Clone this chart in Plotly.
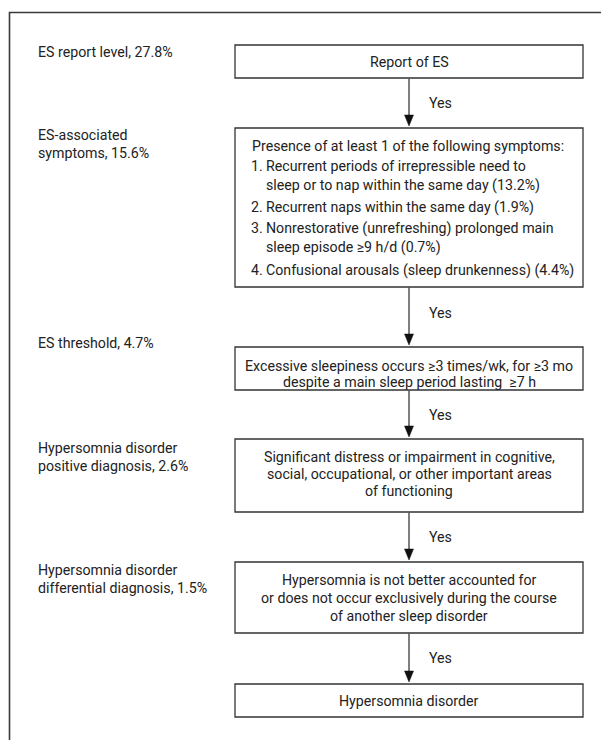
import plotly.graph_objects as go

# ---- data (text content) ----
stage_labels = [
    ["ES report level, 27.8%"],
    ["ES-associated", "symptoms, 15.6%"],
    ["ES threshold, 4.7%"],
    ["Hypersomnia disorder", "positive diagnosis, 2.6%"],
    ["Hypersomnia disorder", "differential diagnosis, 1.5%"],
]
box_texts = [
    ["Report of ES"],
    None,  # list box, see symptom_lines
    ["Excessive sleepiness occurs \u22653 times/wk, for \u22653 mo",
     "despite a main sleep period lasting  \u22657 h"],
    ["Significant distress or impairment in cognitive,",
     "social, occupational, or other important areas",
     "of functioning"],
    ["Hypersomnia is not better accounted for",
     "or does not occur exclusively during the course",
     "of another sleep disorder"],
    ["Hypersomnia disorder"],
]
symptom_header = "Presence of at least 1 of the following symptoms:"
symptom_lines = [
    ("1.", "Recurrent periods of irrepressible need to"),
    ("", "sleep or to nap within the same day (13.2%)"),
    ("2.", "Recurrent naps within the same day (1.9%)"),
    ("3.", "Nonrestorative (unrefreshing) prolonged main"),
    ("", "sleep episode \u22659 h/d (0.7%)"),
    ("4.", "Confusional arousals (sleep drunkenness) (4.4%)"),
]
arrow_label = "Yes"

# ---- layout (positions, pixels) ----
W, H = 601, 740
BOX_X0, BOX_X1 = 235, 583
box_top = [45, 128, 347, 439, 562, 684]
box_bot = [78, 287, 390, 512, 633, 717]
box_line_y = [
    [62],
    None,
    [366, 382],
    [457, 474, 491],
    [580, 598, 616],
    [701],
]
sym_y = [146, 166, 185, 207, 228, 247, 270]
label_y = [52, 135, 343, 448, 570]
LABEL_X = 36
LABEL_DY = 18
YES_Y = [103, 313, 415, 537, 658]

FONT = "Roboto, Liberation Sans, sans-serif"
FS = 14.2
TXT = "#222222"

fig = go.Figure()
shapes = []
ann = []

# outer frame (open to right and bottom)
shapes.append(dict(type="path", path=f"M 9.5 {H} L 9.5 12.5 L {W} 12.5",
                   line=dict(color="#3a3a3a", width=1.6), xref="x", yref="y"))

cx = (BOX_X0 + BOX_X1) / 2
for i in range(len(box_top)):
    shapes.append(dict(type="rect", x0=BOX_X0, x1=BOX_X1, y0=box_top[i], y1=box_bot[i],
                       line=dict(color="#333333", width=1.3), xref="x", yref="y"))
    if box_texts[i] is not None:
        for t, yy in zip(box_texts[i], box_line_y[i]):
            ann.append(dict(x=cx, y=yy, text=t, showarrow=False, xanchor="center",
                            yanchor="middle", font=dict(family=FONT, size=FS, color=TXT)))

# list box
ann.append(dict(x=250, y=sym_y[0], text=symptom_header, showarrow=False, xanchor="left",
                yanchor="middle", font=dict(family=FONT, size=FS, color=TXT)))
for (num, t), yy in zip(symptom_lines, sym_y[1:]):
    ann.append(dict(x=264, y=yy, text=t, showarrow=False, xanchor="left",
                    yanchor="middle", font=dict(family=FONT, size=FS, color=TXT)))
    if num:
        ann.append(dict(x=249, y=yy, text=num, showarrow=False, xanchor="left",
                        yanchor="middle", font=dict(family=FONT, size=FS, color=TXT)))

# arrows between boxes
for i in range(len(box_top) - 1):
    y0 = box_bot[i]
    tip = box_top[i + 1] - 2
    shapes.append(dict(type="line", x0=cx, x1=cx, y0=y0, y1=tip - 8,
                       line=dict(color="#555555", width=1.5), xref="x", yref="y"))
    shapes.append(dict(type="path",
                       path=f"M {cx-4.5} {tip-11} L {cx+4.5} {tip-11} L {cx} {tip} Z",
                       fillcolor="#111111", line=dict(color="#111111", width=0.5),
                       xref="x", yref="y"))
    ann.append(dict(x=427, y=YES_Y[i], text=arrow_label, showarrow=False, xanchor="left",
                    yanchor="middle", font=dict(family=FONT, size=FS, color=TXT)))

# stage labels on the left
for lines, yy in zip(stage_labels, label_y):
    for k, t in enumerate(lines):
        ann.append(dict(x=LABEL_X, y=yy + k * LABEL_DY, text=t, showarrow=False,
                        xanchor="left", yanchor="middle",
                        font=dict(family=FONT, size=FS, color=TXT)))

fig.update_layout(
    width=W, height=H,
    margin=dict(l=0, r=0, t=0, b=0),
    paper_bgcolor="white", plot_bgcolor="white",
    xaxis=dict(range=[0, W], visible=False, fixedrange=True),
    yaxis=dict(range=[H, 0], visible=False, fixedrange=True),
    shapes=shapes, annotations=ann, showlegend=False,
)
fig.write_html("out.html", config={"displayModeBar": False},
               post_script="document.body.style.margin='0';document.body.style.overflow='hidden';")
